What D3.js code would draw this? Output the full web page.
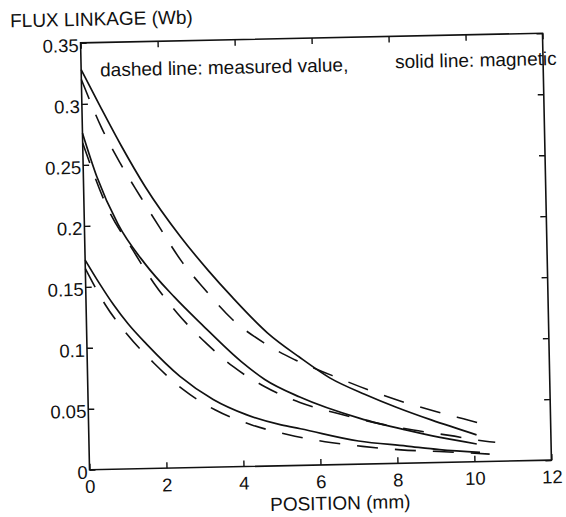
<!DOCTYPE html>
<html>
<head>
<meta charset="utf-8">
<script src="https://cdn.jsdelivr.net/npm/d3@7"></script>
<style>
body { margin: 0; background: #fff; }
svg { display: block; }
</style>
</head>
<body>
<svg id="chart" width="566" height="517"></svg>
<script>
var xTicks = [0, 2, 4, 6, 8, 10, 12];
var yTicks = [0, 0.05, 0.1, 0.15, 0.2, 0.25, 0.3, 0.35];
var yTickLabels = ["0", "0.05", "0.1", "0.15", "0.2", "0.25", "0.3", "0.35"];

// [position mm, flux linkage Wb]  solid = magnetic, dashed = measured
var solid1 = [[0,0.328],[0.5,0.296],[1,0.265],[1.6,0.231],[2.5,0.189],[3.2,0.161],[3.8,0.139],[4.7,0.109],[5.5,0.089],[6.3,0.071],[7.2,0.057],[8,0.046],[8.9,0.035],[10.07,0.022]];
var solid2 = [[0,0.276],[0.35,0.24],[0.87,0.201],[1.55,0.168],[2.3,0.14],[3.0,0.117],[4.0,0.086],[4.6,0.071],[5.5,0.056],[7.05,0.0375],[8.26,0.027],[9.12,0.0205],[10.07,0.0145]];
var solid3 = [[0,0.172],[0.35,0.153],[0.71,0.135],[1.08,0.119],[1.55,0.102],[2.4,0.075],[3.25,0.0555],[4.1,0.0425],[5.0,0.0335],[5.5,0.03],[7.0,0.019],[8.25,0.014],[9.1,0.0105],[10.15,0.0075]];
var dashed1 = [[0,0.32],[0.5,0.28],[0.96,0.251],[1.46,0.2235],[1.96,0.197],[2.51,0.169],[3.06,0.147],[3.8,0.1205],[4.6,0.101],[5.37,0.087],[6.36,0.073],[7.26,0.061],[8.2,0.05],[9.16,0.0406],[10.1,0.032],[10.4,0.029]];
var dashed2 = [[0,0.268],[0.6,0.215],[1.25,0.179],[1.77,0.152],[2.36,0.127],[3.09,0.102],[3.79,0.082],[4.6,0.065],[5.5,0.0515],[6.41,0.0425],[7.4,0.034],[8.43,0.027],[9.36,0.022],[10.3,0.0166],[10.55,0.0156]];
var dashed3 = [[0,0.165],[0.5,0.135],[1.06,0.11],[1.74,0.086],[2.48,0.064],[3.29,0.047],[4.24,0.034],[5.16,0.0255],[6.13,0.019],[7.1,0.0145],[8.1,0.011],[9.09,0.009],[10.4,0.006]];

var font = "'Liberation Sans', Arial, Helvetica, sans-serif";
var ink = "#111";

var svg = d3.select("#chart");
var plotL = 85, plotR = 547, plotT = 38, plotB = 465;

// the scanned figure sits slightly tilted on the page
var root = svg.append("g")
  .attr("transform", "rotate(-1.2,316,251.5)")
  .attr("font-family", font)
  .attr("fill", ink);

var x = d3.scaleLinear().domain([0, 12]).range([plotL, plotR]);
var y = d3.scaleLinear().domain([0, 0.35]).range([plotB, plotT]);

root.append("rect")
  .attr("x", plotL).attr("y", plotT)
  .attr("width", plotR - plotL).attr("height", plotB - plotT)
  .attr("fill", "none").attr("stroke", ink).attr("stroke-width", 1.6);

function styleAxis(g) {
  g.select(".domain").remove();
  g.attr("font-family", font).attr("font-size", 18.5).attr("color", ink);
  g.selectAll(".tick line").attr("stroke-width", 1.4);
}

root.append("g")
  .attr("transform", "translate(0," + plotB + ")")
  .call(d3.axisBottom(x).tickValues(xTicks).tickSizeInner(-6).tickSizeOuter(0).tickPadding(10).tickFormat(d3.format("d")))
  .call(styleAxis);

root.append("g")
  .attr("transform", "translate(0," + plotT + ")")
  .call(d3.axisTop(x).tickValues(xTicks).tickSizeInner(-6).tickSizeOuter(0).tickFormat(""))
  .call(styleAxis);

root.append("g")
  .attr("transform", "translate(" + plotL + ",0)")
  .call(d3.axisLeft(y).tickValues(yTicks).tickSizeInner(-6).tickSizeOuter(0).tickPadding(2)
    .tickFormat(function(d, i) { return yTickLabels[i]; }))
  .call(styleAxis)
  .selectAll("text").attr("dy", "0.46em");

root.append("g")
  .attr("transform", "translate(" + plotR + ",0)")
  .call(d3.axisRight(y).tickValues(yTicks).tickSizeInner(-6).tickSizeOuter(0).tickFormat(""))
  .call(styleAxis);

var line = d3.line()
  .x(function(d) { return x(d[0]); })
  .y(function(d) { return y(d[1]); })
  .curve(d3.curveMonotoneX);

[solid1, solid2, solid3].forEach(function(s) {
  root.append("path").datum(s)
    .attr("d", line)
    .attr("fill", "none").attr("stroke", ink).attr("stroke-width", 1.7);
});

[dashed1, dashed2, dashed3].forEach(function(s) {
  root.append("path").datum(s)
    .attr("d", line)
    .attr("fill", "none").attr("stroke", ink).attr("stroke-width", 1.6)
    .attr("stroke-dasharray", "21,17");
});

root.append("text")
  .attr("x", 15).attr("y", 21)
  .attr("font-size", 19)
  .text("FLUX LINKAGE (Wb)");

root.append("text")
  .attr("x", 104).attr("y", 72)
  .attr("font-size", 19)
  .text("dashed line: measured value,");

root.append("text")
  .attr("x", 399).attr("y", 70)
  .attr("font-size", 19)
  .text("solid line: magnetic");

root.append("text")
  .attr("x", 335).attr("y", 510)
  .attr("text-anchor", "middle")
  .attr("font-size", 19)
  .text("POSITION (mm)");
</script>
</body>
</html>
